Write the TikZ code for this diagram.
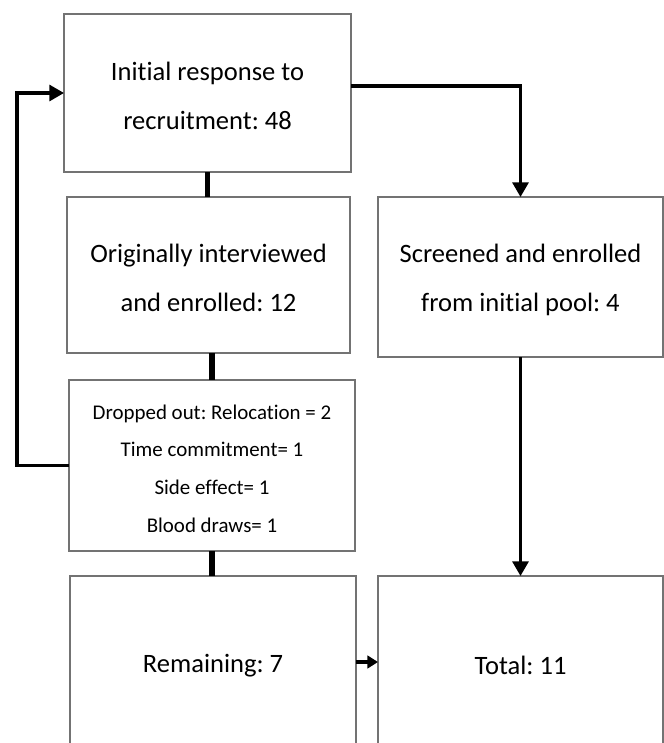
\documentclass[tikz,border=0pt]{standalone}
\usepackage{fontspec}
\setmainfont{Carlito}[Ligatures={NoCommon}]
\frenchspacing
\usetikzlibrary{arrows.meta}
\newcommand{\bigdn}{\rule{0pt}{18.8pt}}
\newcommand{\smdn}{\rule{0pt}{15.5pt}}
\tikzset{
  box/.style={draw=black!55, line width=1pt, inner sep=0pt, outer sep=0pt, align=center, text=black},
  bigtxt/.style={font=\fontsize{19.9}{36.75}\selectfont},
  smalltxt/.style={font=\fontsize{15.7}{28.3}\selectfont},
  bar/.style={line width=4.3pt, black},
  arr/.style={line width=2.3pt, black, -{Triangle[length=11pt,width=12pt]}},
  smallarr/.style={line width=2.3pt, black, -{Triangle[length=8pt,width=9.5pt]}}
}
\begin{document}
\begin{tikzpicture}[x=0.75pt,y=-0.75pt]
\useasboundingbox (0,0) rectangle (664,743);
\clip (0,0) rectangle (664,743);
\node[box,bigtxt,minimum width=215.25pt,minimum height=118.5pt] (init) at (207.5,93) {\bigdn Initial response to\\recruitment: 48};
\node[box,bigtxt,minimum width=212.25pt,minimum height=117pt] (orig) at (208.5,275) {\bigdn Originally interviewed\\and enrolled: 12};
\node[box,bigtxt,minimum width=213.75pt,minimum height=120pt] (screen) at (520.5,277) {\bigdn Screened and enrolled\\from initial pool: 4};
\node[box,smalltxt,minimum width=214.5pt,minimum height=128.25pt] (drop) at (212,465.5) {\smdn Dropped out: Relocation = 2\\Time commitment= 1\\Side effect= 1\\Blood draws= 1};
\node[box,bigtxt,minimum width=214.5pt,minimum height=129pt] (rem) at (213,662) {\bigdn Remaining: 7};
\node[box,bigtxt,minimum width=213.75pt,minimum height=129pt] (total) at (520.5,662) {\bigdn Total: 11};
\coordinate (initr) at (351,86);
\coordinate (loop) at (17,300);
\draw[bar] (init.south) -- (init.south |- orig.north);
\draw[bar] (drop.north |- orig.south) -- (drop.north);
\draw[bar] (drop.south) -- (drop.south |- rem.north);
\draw[arr] (initr) -| (screen.north);
\draw[arr] (screen.south) -- (total.north);
\draw[arr] (drop.west) -| (loop) |- (init.west);
\draw[smallarr] (rem.east) -- (total.west);
\end{tikzpicture}
\end{document}
